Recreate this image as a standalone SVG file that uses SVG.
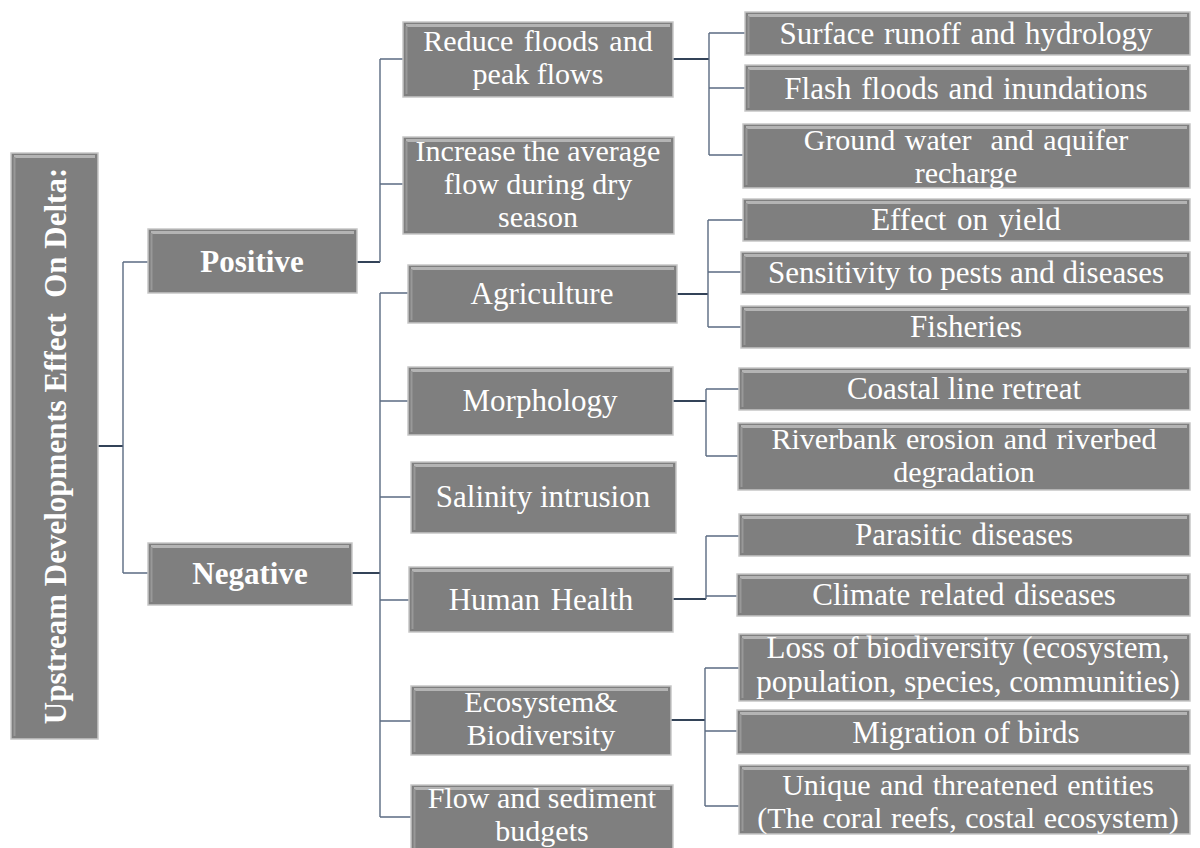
<svg xmlns="http://www.w3.org/2000/svg" width="1200" height="848" viewBox="0 0 1200 848">
<style>
.box{fill:#7f7f7f;stroke:#c6c6c6;stroke-width:1.5}
.hl{stroke:#b4b4b4;stroke-width:3;fill:none}
.hl2{stroke:#989898;stroke-width:2;fill:none}
.t{font-family:"Liberation Serif","Times New Roman",serif;font-size:31px;fill:#ffffff;text-anchor:middle}
.m{font-size:30px}
.b{font-weight:bold}
.c{fill:none;stroke:#5b6b82;stroke-width:1.4}
.ct{fill:none;stroke:#334358;stroke-width:2}
</style>
<rect width="1200" height="848" fill="#ffffff"/>
<g id="connectors">
<path class="ct" d="M98 446 H123"/>
<path class="c" d="M123 262 V573 M123 262 H148 M123 573 H148"/>
<path class="ct" d="M357 262 H380"/>
<path class="c" d="M380 59 V262 M380 59 H403 M380 184 H403"/>
<path class="ct" d="M352 573 H380"/>
<path class="c" d="M380 293 V817 M380 293 H408 M380 401 H408 M380 497 H411 M380 600 H409 M380 721 H411 M380 817 H411"/>
<path class="ct" d="M673 59 H709"/>
<path class="c" d="M709 33 V155 M709 33 H745 M709 88 H745 M709 155 H743"/>
<path class="ct" d="M677 294 H708"/>
<path class="c" d="M708 220 V327 M708 220 H743 M708 272 H741 M708 327 H741"/>
<path class="ct" d="M673 401 H706"/>
<path class="c" d="M706 389 V456 M706 389 H739 M706 456 H738"/>
<path class="ct" d="M673 599 H706"/>
<path class="c" d="M706 536 V599 M706 536 H739 M706 596 H737"/>
<path class="ct" d="M671 720 H705"/>
<path class="c" d="M705 668 V806 M705 668 H739 M705 731 H737 M705 806 H739"/>
</g>
<g id="root">
<rect class="box" x="11" y="153" width="87" height="586"/>
<path class="hl" d="M14 156.5 H95"/><path class="hl2" d="M14.5 157 V736"/>
<text class="t b" transform="translate(66,446) rotate(-90)" xml:space="preserve">Upstream Developments Effect  On Delta:</text>
</g>
<g id="positive">
<rect class="box" x="148" y="229" width="209" height="64"/>
<path class="hl" d="M151 232.5 H354"/><path class="hl2" d="M151.5 233 V290"/>
<text class="t b" x="252" y="272">Positive</text>
</g>
<g id="negative">
<rect class="box" x="148" y="543" width="204" height="62"/>
<path class="hl" d="M151 546.5 H349"/><path class="hl2" d="M151.5 547 V602"/>
<text class="t b" x="250" y="584">Negative</text>
</g>
<g id="reduce">
<rect class="box" x="403" y="22" width="270" height="75"/>
<path class="hl" d="M406 25.5 H670"/><path class="hl2" d="M406.5 26 V94"/>
<text class="t m" x="538" y="51" word-spacing="3">Reduce floods and</text>
<text class="t m" x="538" y="84">peak flows</text>
</g>
<g id="increase">
<rect class="box" x="403" y="137" width="271" height="97"/>
<path class="hl" d="M406 140.5 H671"/><path class="hl2" d="M406.5 141 V231"/>
<text class="t m" x="538" y="161">Increase the average</text>
<text class="t m" x="538" y="194">flow during dry</text>
<text class="t m" x="538" y="227">season</text>
</g>
<g id="agriculture">
<rect class="box" x="408" y="265" width="269" height="58"/>
<path class="hl" d="M411 268.5 H674"/><path class="hl2" d="M411.5 269 V320"/>
<text class="t" x="542" y="304">Agriculture</text>
</g>
<g id="morphology">
<rect class="box" x="408" y="367" width="265" height="68"/>
<path class="hl" d="M411 370.5 H670"/><path class="hl2" d="M411.5 371 V432"/>
<text class="t" x="540" y="411">Morphology</text>
</g>
<g id="salinity">
<rect class="box" x="411" y="462" width="265" height="71"/>
<path class="hl" d="M414 465.5 H673"/><path class="hl2" d="M414.5 466 V530"/>
<text class="t" x="543" y="507">Salinity intrusion</text>
</g>
<g id="human">
<rect class="box" x="409" y="567" width="264" height="65"/>
<path class="hl" d="M412 570.5 H670"/><path class="hl2" d="M412.5 571 V629"/>
<text class="t" x="541" y="610" word-spacing="3">Human Health</text>
</g>
<g id="ecosystem">
<rect class="box" x="411" y="686" width="260" height="69"/>
<path class="hl" d="M414 689.5 H668"/><path class="hl2" d="M414.5 690 V752"/>
<text class="t m" x="541" y="712">Ecosystem&amp;</text>
<text class="t m" x="541" y="745">Biodiversity</text>
</g>
<g id="flow">
<rect class="box" x="411" y="785" width="262" height="70"/>
<path class="hl" d="M414 788.5 H670"/><path class="hl2" d="M414.5 789 V852"/>
<text class="t m" x="542" y="808">Flow and sediment</text>
<text class="t m" x="542" y="841">budgets</text>
</g>
<g id="surface">
<rect class="box" x="745" y="12" width="445" height="43"/>
<path class="hl" d="M748 15.5 H1187"/><path class="hl2" d="M748.5 16 V52"/>
<text class="t" x="966" y="44" word-spacing="2">Surface runoff and hydrology</text>
</g>
<g id="flash">
<rect class="box" x="745" y="65" width="445" height="46"/>
<path class="hl" d="M748 68.5 H1187"/><path class="hl2" d="M748.5 69 V108"/>
<text class="t" x="966" y="99" word-spacing="2">Flash floods and inundations</text>
</g>
<g id="ground">
<rect class="box" x="743" y="124" width="447" height="64"/>
<path class="hl" d="M746 127.5 H1187"/><path class="hl2" d="M746.5 128 V185"/>
<text class="t m" x="966" y="150" word-spacing="2" xml:space="preserve">Ground water  and aquifer</text>
<text class="t m" x="966" y="183">recharge</text>
</g>
<g id="yield">
<rect class="box" x="743" y="199" width="447" height="42"/>
<path class="hl" d="M746 202.5 H1187"/><path class="hl2" d="M746.5 203 V238"/>
<text class="t" x="966" y="230" word-spacing="3">Effect on yield</text>
</g>
<g id="sensitivity">
<rect class="box" x="741" y="252" width="449" height="42"/>
<path class="hl" d="M744 255.5 H1187"/><path class="hl2" d="M744.5 256 V291"/>
<text class="t" x="966" y="283">Sensitivity to pests and diseases</text>
</g>
<g id="fisheries">
<rect class="box" x="741" y="306" width="449" height="42"/>
<path class="hl" d="M744 309.5 H1187"/><path class="hl2" d="M744.5 310 V345"/>
<text class="t" x="966" y="337">Fisheries</text>
</g>
<g id="coastal">
<rect class="box" x="739" y="368" width="451" height="42"/>
<path class="hl" d="M742 371.5 H1187"/><path class="hl2" d="M742.5 372 V407"/>
<text class="t" x="964" y="399">Coastal line retreat</text>
</g>
<g id="riverbank">
<rect class="box" x="738" y="423" width="452" height="67"/>
<path class="hl" d="M741 426.5 H1187"/><path class="hl2" d="M741.5 427 V487"/>
<text class="t m" x="964" y="449" word-spacing="2">Riverbank erosion and riverbed</text>
<text class="t m" x="964" y="482">degradation</text>
</g>
<g id="parasitic">
<rect class="box" x="739" y="514" width="451" height="42"/>
<path class="hl" d="M742 517.5 H1187"/><path class="hl2" d="M742.5 518 V553"/>
<text class="t" x="964" y="545" word-spacing="2">Parasitic diseases</text>
</g>
<g id="climate">
<rect class="box" x="737" y="574" width="453" height="42"/>
<path class="hl" d="M740 577.5 H1187"/><path class="hl2" d="M740.5 578 V613"/>
<text class="t" x="964" y="605" word-spacing="2">Climate related diseases</text>
</g>
<g id="loss">
<rect class="box" x="739" y="634" width="451" height="67"/>
<path class="hl" d="M742 637.5 H1187"/><path class="hl2" d="M742.5 638 V698"/>
<text class="t" x="968" y="658">Loss of biodiversity (ecosystem,</text>
<text class="t" x="968" y="692">population, species, communities)</text>
</g>
<g id="migration">
<rect class="box" x="737" y="710" width="453" height="44"/>
<path class="hl" d="M740 713.5 H1187"/><path class="hl2" d="M740.5 714 V751"/>
<text class="t" x="966" y="743">Migration of birds</text>
</g>
<g id="unique">
<rect class="box" x="739" y="765" width="451" height="69"/>
<path class="hl" d="M742 768.5 H1187"/><path class="hl2" d="M742.5 769 V831"/>
<text class="t m" x="968" y="795" word-spacing="2">Unique and threatened entities</text>
<text class="t m" x="968" y="828" word-spacing="1">(The coral reefs, costal ecosystem)</text>
</g>
</svg>
